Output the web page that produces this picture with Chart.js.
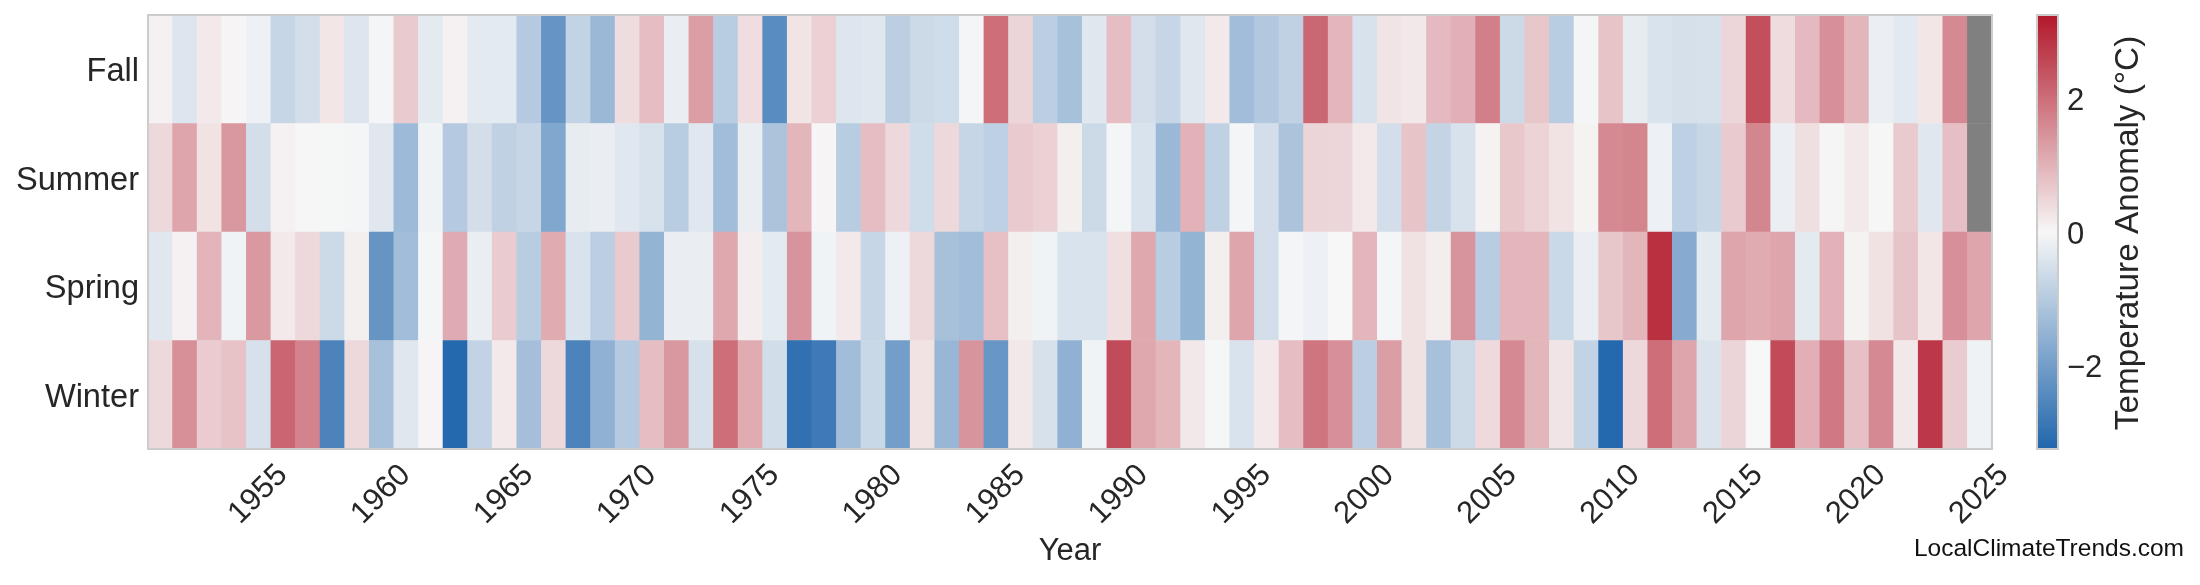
<!DOCTYPE html>
<html>
<head>
<meta charset="utf-8">
<script src="https://cdn.jsdelivr.net/npm/chart.js@4/dist/chart.umd.min.js"></script>
<style>
  html, body { margin: 0; padding: 0; background: #ffffff; }
  #wrap { width: 2200px; height: 585px; }
</style>
</head>
<body>
<div id="wrap"><canvas id="seasonHeatmap" width="2200" height="585"></canvas></div>
<script>
// Seasonal temperature anomalies (°C), 1951-2025
const years = [
    1951, 1952, 1953, 1954, 1955, 1956, 1957, 1958, 1959, 1960,
    1961, 1962, 1963, 1964, 1965, 1966, 1967, 1968, 1969, 1970,
    1971, 1972, 1973, 1974, 1975, 1976, 1977, 1978, 1979, 1980,
    1981, 1982, 1983, 1984, 1985, 1986, 1987, 1988, 1989, 1990,
    1991, 1992, 1993, 1994, 1995, 1996, 1997, 1998, 1999, 2000,
    2001, 2002, 2003, 2004, 2005, 2006, 2007, 2008, 2009, 2010,
    2011, 2012, 2013, 2014, 2015, 2016, 2017, 2018, 2019, 2020,
    2021, 2022, 2023, 2024, 2025
];
const seasons = ['Winter', 'Spring', 'Summer', 'Fall'];
const yearTicks = [1955, 1960, 1965, 1970, 1975, 1980, 1985, 1990, 1995, 2000, 2005, 2010, 2015, 2020, 2025];
const colorbarTicks = [-2, 0, 2];

const winter = [
    0.45, 1.51, 0.62, 0.76, -0.5, 2.12, 1.69, -2.6, 0.45, -1.2,
    -0.35, 0.05, -3.2, -0.8, 0.2, -1.25, 0.45, -2.6, -1.57, -1.0,
    0.85, 1.4, -0.5, 2.0, 1.1, -0.57, -3.0, -2.8, -1.3, -0.7,
    -2.0, 0.3, -1.45, 1.45, -2.15, 0.22, -0.5, -1.57, -0.1, 2.5,
    1.15, 0.95, 0.22, -0.03, -0.45, 0.2, 0.85, 1.9, 1.5, -0.9,
    1.3, 0.32, -1.2, -0.65, 0.42, 1.6, 0.95, 0.27, -0.8, -3.2,
    0.45, 2.0, 1.2, -0.42, 0.5, 0.0, 2.5, 1.05, 1.85, 0.8,
    1.6, 0.22, 2.8, 0.62, -0.12
];
const spring = [
    -0.35, 0.1, 0.96, -0.1, 1.37, 0.2, 0.45, -0.65, 0.12, -2.2,
    -1.3, -0.05, 1.12, -0.2, 0.62, -0.95, 1.1, -0.45, -0.9, 0.65,
    -1.5, -0.2, -0.2, 1.15, 0.15, -0.3, 1.45, -0.1, 0.2, -0.75,
    -0.15, 0.45, -1.2, -1.3, 0.8, 0.12, -0.1, -0.45, -0.45, 0.35,
    1.15, -0.95, -1.5, 0.12, 1.2, -0.55, -0.05, -0.15, 0.0, 0.95,
    -0.05, 0.32, 0.15, 1.45, -0.95, 0.95, 0.95, -0.68, -0.2, 0.7,
    0.95, 2.9, -1.7, -0.3, 1.2, 1.1, 1.2, -0.3, 1.0, 0.08,
    0.32, 0.75, 0.25, 1.5, 1.2
];
const summer = [
    0.45, 1.2, 0.3, 1.4, -0.55, 0.1, -0.02, -0.03, -0.05, -0.35,
    -1.36, -0.1, -1.0, -0.55, -0.85, -0.75, -1.8, -0.25, -0.2, -0.35,
    -0.48, -0.95, -0.35, -1.3, -0.2, -1.15, 0.95, 0.05, -0.95, 0.85,
    0.45, -0.6, 0.45, -0.75, -0.87, 0.65, 0.55, 0.12, -0.65, -0.05,
    -0.45, -1.4, 1.0, -0.85, -0.05, -0.55, -1.15, 0.5, 0.48, 0.2,
    -0.55, 0.75, -0.78, -0.48, 0.08, 0.68, 0.52, 0.3, 0.08, 1.6,
    1.65, -0.15, -0.87, -0.72, 0.65, 1.65, -0.18, 0.35, 0.03, 0.2,
    0.01, 0.65, -0.35, 0.82, null
];
const fall = [
    0.1, -0.4, 0.2, 0.05, -0.15, -0.75, -0.55, 0.25, -0.4, -0.05,
    0.65, -0.3, 0.1, -0.3, -0.3, -1.0, -2.2, -0.8, -1.4, 0.4,
    0.85, -0.2, 1.3, -0.95, 0.38, -2.4, 0.28, 0.55, -0.4, -0.35,
    -0.9, -0.65, -0.6, -0.05, 2.0, 0.5, -0.9, -1.2, -0.35, 0.85,
    -0.55, -0.75, -0.35, 0.2, -1.3, -1.05, -0.85, 2.1, 0.95, -0.48,
    0.28, 0.22, 0.9, 1.05, 1.75, -0.65, 0.7, -0.95, -0.05, 0.75,
    -0.25, -0.45, -0.52, -0.5, 0.48, 2.45, 0.4, 0.9, 1.5, 0.95,
    -0.18, -0.32, 0.25, 1.6, null
];

const VMAX = 3.25;
const FONT = '"Liberation Sans", Arial, sans-serif';
const TEXT = '#262626';

// blue - light grey - red, linear in RGB
function anomalyColor(v) {
    if (v === null) return '#808080';
    const t = Math.max(-1, Math.min(1, v / VMAX));
    const mid = [247, 247, 247];
    const end = t >= 0 ? [178, 24, 43] : [33, 102, 172];
    const a = Math.abs(t);
    const c = mid.map((m, i) => Math.round(m + (end[i] - m) * a));
    return 'rgb(' + c.join(',') + ')';
}

const rows = [winter, spring, summer, fall];

// keep label half-heights / paddings from pushing the plot area around
function noEdgePadding(s) {
    s.paddingTop = 0;
    s.paddingBottom = 0;
    s.paddingLeft = 0;
    s.paddingRight = 0;
}

// frame, colorbar strip + its title, watermark
const heatmapExtras = {
    id: 'heatmapExtras',
    afterDatasetsDraw(chart) {
        const { ctx, chartArea: a, scales } = chart;
        ctx.save();
        ctx.strokeStyle = '#cccccc';
        ctx.lineWidth = 2;
        ctx.strokeRect(a.left, a.top, a.right - a.left, a.bottom - a.top);

        const cb = scales.cbar;
        const yTop = cb.getPixelForValue(VMAX);
        const yBot = cb.getPixelForValue(-VMAX);
        const x0 = cb.left + 45;
        const w = 21;
        const grad = ctx.createLinearGradient(0, yBot, 0, yTop);
        grad.addColorStop(0, anomalyColor(-VMAX));
        grad.addColorStop(0.5, anomalyColor(0));
        grad.addColorStop(1, anomalyColor(VMAX));
        ctx.fillStyle = grad;
        ctx.fillRect(x0, yTop, w, yBot - yTop);
        ctx.strokeRect(x0, yTop, w, yBot - yTop);

        ctx.save();
        ctx.fillStyle = TEXT;
        ctx.font = '33.3px ' + FONT;
        ctx.translate(cb.left + 137, (yTop + yBot) / 2 + 1);
        ctx.rotate(-Math.PI / 2);
        ctx.textAlign = 'center';
        ctx.textBaseline = 'middle';
        ctx.fillText('Temperature Anomaly (°C)', 0, 0);
        ctx.restore();

        ctx.fillStyle = '#111111';
        ctx.font = '24.5px ' + FONT;
        ctx.textAlign = 'right';
        ctx.textBaseline = 'middle';
        ctx.fillText('LocalClimateTrends.com', 2184, 549);
        ctx.restore();
    }
};

const heatmapCtx = document.getElementById('seasonHeatmap');
new Chart(heatmapCtx, {
    type: 'bar',
    data: {
        labels: years,
        datasets: seasons.map((name, r) => ({
            label: name,
            data: years.map(() => [r, r + 1]),
            backgroundColor: rows[r].map(anomalyColor),
            borderWidth: 0,
            barPercentage: 1,
            categoryPercentage: 1,
            grouped: false
        }))
    },
    options: {
        responsive: false,
        animation: false,
        devicePixelRatio: 1,
        layout: { padding: { top: 15, left: 0, right: 0, bottom: 0 } },
        plugins: {
            legend: { display: false },
            tooltip: { enabled: false }
        },
        scales: {
            x: {
                type: 'category',
                offset: true,
                grid: { display: false, drawTicks: false },
                border: { display: false },
                ticks: {
                    autoSkip: false,
                    minRotation: 45,
                    maxRotation: 45,
                    labelOffset: 24,
                    padding: 8,
                    color: TEXT,
                    font: { family: FONT, size: 31 },
                    callback: (value, index) => yearTicks.includes(years[index]) ? String(years[index]) : ''
                },
                title: {
                    display: true,
                    text: 'Year',
                    color: TEXT,
                    font: { family: FONT, size: 31 },
                    padding: { top: 0, bottom: 15 }
                },
                afterFit: s => { s.height = 136; noEdgePadding(s); }
            },
            y: {
                min: 0,
                max: 4,
                grid: { display: false, drawTicks: false },
                border: { display: false },
                afterBuildTicks: s => { s.ticks = seasons.map((_, i) => ({ value: i + 0.5 })); },
                ticks: {
                    padding: 9,
                    labelOffset: 3,
                    color: TEXT,
                    font: { family: FONT, size: 32.6 },
                    callback: v => seasons[Math.floor(v)]
                },
                afterFit: s => { s.width = 148; noEdgePadding(s); }
            },
            cbar: {
                type: 'linear',
                position: 'right',
                min: -VMAX,
                max: VMAX,
                grid: { display: false, drawTicks: false },
                border: { display: false },
                afterBuildTicks: s => { s.ticks = colorbarTicks.map(v => ({ value: v })); },
                ticks: {
                    padding: 75,
                    labelOffset: 3,
                    color: TEXT,
                    font: { family: FONT, size: 31 },
                    callback: v => v < 0 ? '\u2212' + Math.abs(v) : String(v)
                },
                afterFit: s => { s.width = 208; noEdgePadding(s); }
            }
        }
    },
    plugins: [heatmapExtras]
});
</script>
</body>
</html>
